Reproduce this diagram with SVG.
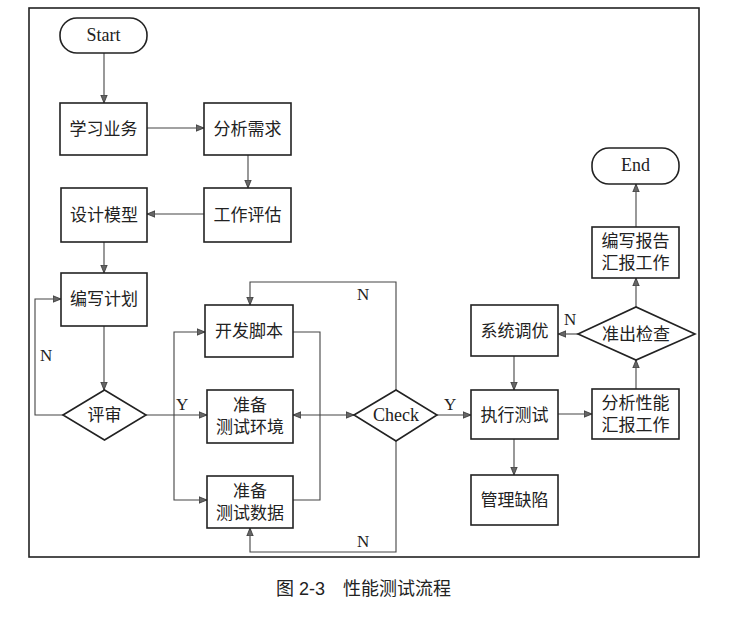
<svg xmlns="http://www.w3.org/2000/svg" width="750" height="621" viewBox="0 0 750 621">
<defs>
<marker id="ah" markerWidth="8" markerHeight="8" refX="8" refY="4" orient="auto-start-reverse" markerUnits="userSpaceOnUse">
<path d="M0,0.8 L8,4 L0,7.2 z" fill="#666" stroke="#333" stroke-width="0.8"/>
</marker>
</defs>
<style>
.box{fill:#fff;stroke:#222;stroke-width:1.6}
.t{font-family:"Liberation Serif","Noto Sans CJK SC",serif;font-size:17px;fill:#222;text-anchor:middle}
.e{font-size:18px}
.c{fill:none;stroke:#444;stroke-width:1.1}
.a{marker-end:url(#ah)}
.lbl{font-family:"Liberation Serif",serif;font-size:17px;fill:#222}
.cap{font-family:"Liberation Sans","Noto Sans CJK SC",sans-serif;font-size:18px;fill:#222}
</style>
<rect width="750" height="621" fill="#fff"/>
<rect x="29" y="8" width="670" height="549" fill="none" stroke="#222" stroke-width="1.6"/>

<g id="connectors">
<line class="c a" x1="104" y1="53" x2="104" y2="103"/>
<line class="c a" x1="147" y1="128" x2="204" y2="128"/>
<line class="c a" x1="248" y1="155" x2="248" y2="188"/>
<line class="c a" x1="204" y1="214" x2="147" y2="214"/>
<line class="c a" x1="104" y1="242" x2="104" y2="273"/>
<line class="c a" x1="104" y1="326" x2="104" y2="390"/>
<polyline class="c a" points="63,415 35,415 35,299 61,299"/>
<line class="c a" x1="146" y1="415" x2="207" y2="415"/>
<polyline class="c a" points="174,415 174,332 205,332"/>
<polyline class="c a" points="174,415 174,500 207,500"/>
<polyline class="c" points="293,332 320,332 320,500 293,500"/>
<line class="c" x1="293" y1="415" x2="354" y2="415" marker-start="url(#ah)" marker-end="url(#ah)"/>
<polyline class="c a" points="396,390 396,282 250,282 250,305"/>
<polyline class="c a" points="396,441 396,552 250,552 250,528"/>
<line class="c a" x1="437" y1="415" x2="471" y2="415"/>
<line class="c a" x1="558" y1="414" x2="592" y2="414"/>
<line class="c a" x1="514" y1="439" x2="514" y2="475"/>
<line class="c a" x1="514" y1="356" x2="514" y2="390"/>
<line class="c a" x1="636" y1="389" x2="636" y2="360"/>
<line class="c a" x1="578" y1="334" x2="558" y2="334"/>
<line class="c a" x1="636" y1="307" x2="636" y2="278"/>
<line class="c a" x1="636" y1="227" x2="636" y2="184"/>
<text class="lbl" x="40" y="361">N</text>
<text class="lbl" x="176" y="410">Y</text>
<text class="lbl" x="357" y="300">N</text>
<text class="lbl" x="357" y="547">N</text>
<text class="lbl" x="444" y="410">Y</text>
<text class="lbl" x="564" y="325">N</text>
</g>

<g id="start"><rect class="box" x="60" y="18" width="87" height="35" rx="17"/><text class="t e" x="103.5" y="41">Start</text></g>
<g id="learn"><rect class="box" x="60" y="103" width="87" height="52"/><text class="t" x="103.5" y="135">学习业务</text></g>
<g id="analyze"><rect class="box" x="204" y="103" width="87" height="52"/><text class="t" x="247.5" y="135">分析需求</text></g>
<g id="estimate"><rect class="box" x="204" y="188" width="87" height="54"/><text class="t" x="247.5" y="221">工作评估</text></g>
<g id="design"><rect class="box" x="61" y="188" width="86" height="54"/><text class="t" x="104" y="221">设计模型</text></g>
<g id="plan"><rect class="box" x="61" y="273" width="86" height="53"/><text class="t" x="104" y="305">编写计划</text></g>
<g id="review"><polygon class="box" points="63,415 104.5,390 146,415 104.5,440"/><text class="t" x="104.5" y="421">评审</text></g>
<g id="script"><rect class="box" x="205" y="305" width="88" height="52"/><text class="t" x="249" y="337">开发脚本</text></g>
<g id="env"><rect class="box" x="207" y="390" width="86" height="53"/><text class="t" x="250" y="411">准备</text><text class="t" x="250" y="433">测试环境</text></g>
<g id="data"><rect class="box" x="207" y="476" width="86" height="52"/><text class="t" x="250" y="497">准备</text><text class="t" x="250" y="519">测试数据</text></g>
<g id="check"><polygon class="box" points="354,415 396,390 437,415 396,441"/><text class="t e" x="396" y="421">Check</text></g>
<g id="execute"><rect class="box" x="471" y="390" width="87" height="49"/><text class="t" x="514.5" y="421">执行测试</text></g>
<g id="defect"><rect class="box" x="471" y="475" width="87" height="50"/><text class="t" x="514.5" y="506">管理缺陷</text></g>
<g id="tune"><rect class="box" x="471" y="305" width="87" height="51"/><text class="t" x="514.5" y="337">系统调优</text></g>
<g id="perf"><rect class="box" x="592" y="389" width="87" height="50"/><text class="t" x="635.5" y="409">分析性能</text><text class="t" x="635.5" y="431">汇报工作</text></g>
<g id="exitcheck"><polygon class="box" points="578,334 636,307 695,334 636,360"/><text class="t" x="636" y="340">准出检查</text></g>
<g id="report"><rect class="box" x="592" y="227" width="87" height="51"/><text class="t" x="635.5" y="247">编写报告</text><text class="t" x="635.5" y="269">汇报工作</text></g>
<g id="end"><rect class="box" x="592" y="148" width="87" height="36" rx="17"/><text class="t e" x="635.5" y="171">End</text></g>

<text class="cap" x="276" y="595">图 2-3</text>
<text class="cap" x="343" y="595">性能测试流程</text>
</svg>
